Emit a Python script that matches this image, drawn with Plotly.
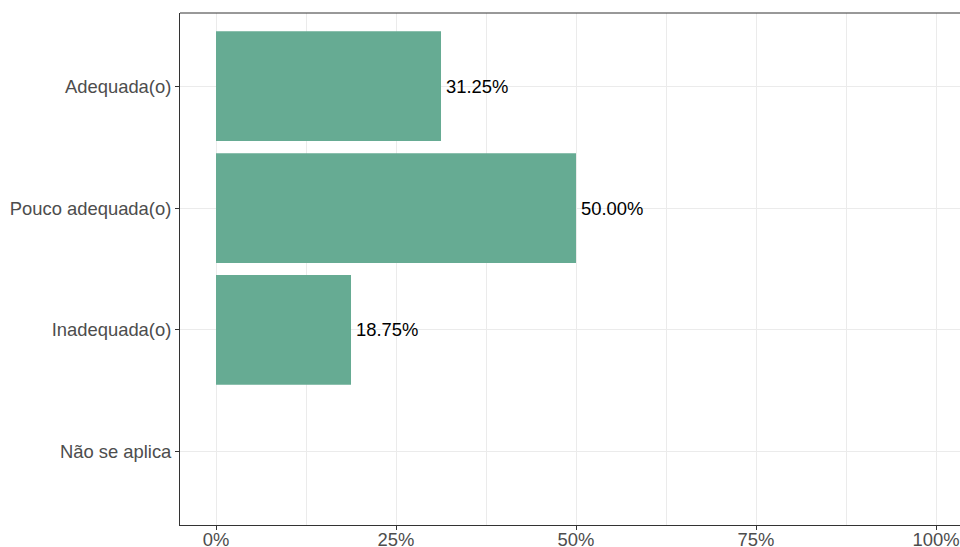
import plotly.graph_objects as go

categories = ["Adequada(o)", "Pouco adequada(o)", "Inadequada(o)", "Não se aplica"]
values = [31.25, 50.00, 18.75, 0.0]
x_tickvals = [0, 25, 50, 75, 100]
x_ticktext = ["0%", "25%", "50%", "75%", "100%"]

bar_color = "#66ab93"
font_family = "Liberation Sans, Arial, sans-serif"
fsize = 18.4

fig = go.Figure()
fig.add_trace(go.Bar(
    x=values, y=categories, orientation="h",
    marker=dict(color=bar_color, line=dict(width=0)),
    width=0.9, hoverinfo="skip",
))

annotations = []
for c, v in zip(categories, values):
    if v > 0:
        annotations.append(dict(
            x=v, y=c, xref="x", yref="y", text=f"{v:.2f}%",
            xanchor="left", yanchor="middle", xshift=3, showarrow=False,
            font=dict(family=font_family, size=fsize, color="#000000"),
        ))

fig.update_layout(
    width=960, height=547,
    margin=dict(l=180, r=0, t=13, b=22, pad=0, autoexpand=False),
    paper_bgcolor="white", plot_bgcolor="white",
    showlegend=False,
    font=dict(family=font_family, size=fsize, color="#4d4d4d"),
    bargap=0.1,
    annotations=annotations,
    xaxis=dict(
        range=[-5, 103.33], automargin=False,
        tickvals=x_tickvals, ticktext=x_ticktext,
        showgrid=True, gridcolor="#ebebeb", gridwidth=1,
        minor=dict(dtick=12.5, tick0=12.5, showgrid=True, gridcolor="#ebebeb", gridwidth=0.5, ticks=""),
        zeroline=False,
        showline=True, linecolor="#333333", linewidth=1,
        ticks="outside", ticklen=4, tickcolor="#333333", tickwidth=1,
        ticklabelstandoff=-6,
        tickfont=dict(family=font_family, size=fsize, color="#4d4d4d"),
        fixedrange=True,
    ),
    yaxis=dict(
        categoryorder="array", categoryarray=categories,
        range=[3.6, -0.6], automargin=False,
        showgrid=True, gridcolor="#ebebeb", gridwidth=1,
        zeroline=False,
        showline=True, linecolor="#333333", linewidth=1,
        ticks="outside", ticklen=4, tickcolor="#333333", tickwidth=1,
        tickfont=dict(family=font_family, size=fsize, color="#4d4d4d"),
        fixedrange=True,
    ),
    shapes=[dict(type="line", xref="paper", yref="paper", x0=0, x1=1, y0=1, y1=1,
                 line=dict(color="#333333", width=1))],
)

fig.write_html(
    "out.html",
    config={"displayModeBar": False},
    post_script="document.body.style.margin='0';document.body.style.overflow='hidden';",
)
